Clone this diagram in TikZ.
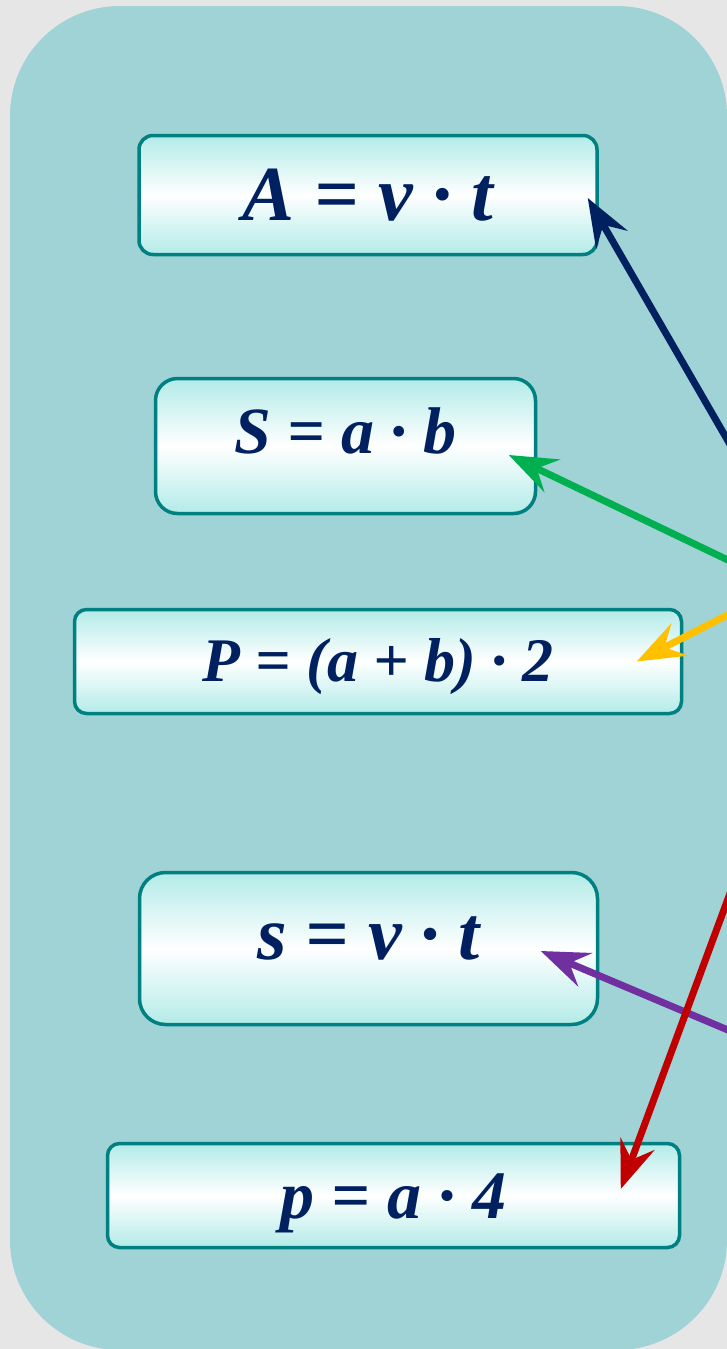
\documentclass[tikz,border=0pt]{standalone}
\usepackage{fontspec}
\setmainfont{Liberation Serif}
\usetikzlibrary{arrows.meta, calc}
\definecolor{paper}{HTML}{E6E6E6}
\definecolor{boardteal}{HTML}{9FD3D6}
\definecolor{boxedge}{HTML}{008080}
\definecolor{boxcyan}{HTML}{B2EBE8}
\definecolor{inkblue}{HTML}{002060}
\definecolor{arrgreen}{HTML}{00B050}
\definecolor{arryellow}{HTML}{FFC000}
\definecolor{arrpurple}{HTML}{7030A0}
\definecolor{arrred}{HTML}{C00000}

\begin{document}
\begin{tikzpicture}[x=1pt, y=-1pt,
    formula/.style={draw=boxedge, line width=3.5pt, rounded corners=14pt,
                    top color=boxcyan, bottom color=boxcyan, middle color=white,
                    text=inkblue, inner sep=0pt, text depth=0pt},
    fs/.style={font=\fontsize{#1}{#1}\selectfont\bfseries\itshape},
    lift/.style={text height=#1},
    arr/.style={-{Stealth[length=48pt, width=36pt, inset=17pt]}, line width=7pt}
  ]
    \useasboundingbox (0,0) rectangle (727,1349);
    \fill[paper] (0,0) rectangle (727,1349);
    \clip (0,0) rectangle (727,1349);
    \fill[boardteal, rounded corners=110pt] (10,6) rectangle (727,1350);

    \node[formula, fs=78, lift=50pt, minimum width=458pt, minimum height=119pt]
      (area) at (368,195) {A = v · t};
    \node[formula, fs=66, lift=14pt, rounded corners=22pt,
          minimum width=380pt, minimum height=135pt]
      (rect) at (345.5,446) {S = a · b};
    \node[formula, fs=62, lift=40pt, rounded corners=12pt,
          minimum width=607pt, minimum height=104pt]
      (perim) at (378,661.5) {P = (a + b) · 2};
    \node[formula, fs=76, lift=21pt, rounded corners=26pt,
          minimum width=458pt, minimum height=152pt]
      (dist) at (368.5,948.5) {s = v · t};
    \node[formula, fs=68, lift=45pt, rounded corners=12pt,
          minimum width=572pt, minimum height=104pt]
      (square) at (393.5,1195.5) {p = a · 4};

    % free ends beyond the right edge
    \coordinate (fromArea) at (780,531);
    \coordinate (fromRect) at (780,585);
    \coordinate (fromPerim) at (780,588);
    \coordinate (fromDist) at (780,1052);
    \coordinate (fromSquare) at (780,758);

    \draw[arr, inkblue] (fromArea) -- ($(area.east)+(-11,3)$);
    \draw[arr, arrgreen] (fromRect) -- ($(rect.east)+(-28.5,9)$);
    \draw[arr, arryellow] (fromPerim) -- ($(perim.east)+(-46.5,0)$);
    \draw[arr, arrpurple] (fromDist) -- ($(dist.east)+(-58.5,2.5)$);
    \draw[arr, arrred] (fromSquare) -- ($(square.east)+(-60.5,-6.5)$);
\end{tikzpicture}
\end{document}
